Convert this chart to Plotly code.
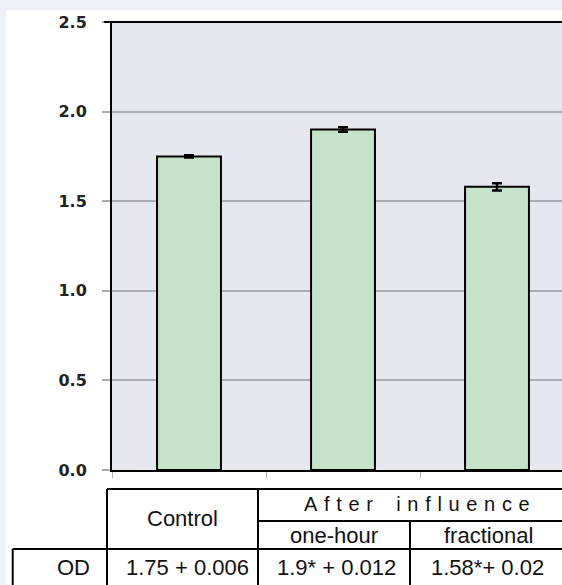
import plotly.graph_objects as go

# ---- data ----
groups = ["Control", "one-hour", "fractional"]
od_mean = [1.75, 1.9, 1.58]
od_err = [0.006, 0.012, 0.02]
sig_mark = ["", "*", "*"]
sig_sep = [" + ", " + ", "+ "]
y_ticks = [0.0, 0.5, 1.0, 1.5, 2.0, 2.5]
header_top = "After influence"
row_label = "OD"

# ---- layout geometry (pixels) ----
W, H = 562, 585
L, R, T, B = 112, 562, 22, 470


def px(x):
    return (x - L) / (R - L)


def py(y):
    return (B - y) / (B - T)


fig = go.Figure()
fig.add_trace(go.Bar(
    x=groups, y=od_mean,
    width=0.415,
    marker=dict(color="#c4e3c8", line=dict(color="black", width=2)),
    error_y=dict(type="data", array=od_err, visible=True,
                 color="black", thickness=2.5, width=5),
    showlegend=False,
))

shapes = []
# outer light frame strips
shapes.append(dict(type="rect", xref="paper", yref="paper",
                   x0=px(0), x1=px(W), y0=py(0), y1=py(10),
                   fillcolor="#edf0f7", line=dict(width=0), layer="below"))
shapes.append(dict(type="rect", xref="paper", yref="paper",
                   x0=px(0), x1=px(6), y0=py(0), y1=py(H),
                   fillcolor="#edf0f7", line=dict(width=0), layer="below"))
# top border of plot
shapes.append(dict(type="line", xref="paper", yref="paper",
                   x0=px(104), x1=px(W), y0=1, y1=1,
                   line=dict(color="black", width=2)))


def hline(y, x0, x1):
    shapes.append(dict(type="line", xref="paper", yref="paper",
                       x0=px(x0), x1=px(x1), y0=py(y), y1=py(y),
                       line=dict(color="black", width=2)))


def vline(x, y0, y1):
    shapes.append(dict(type="line", xref="paper", yref="paper",
                       x0=px(x), x1=px(x), y0=py(y0), y1=py(y1),
                       line=dict(color="black", width=2)))


# table grid
hline(489, 107, W)
hline(521, 258, W)
hline(549, 12.7, W)
vline(107, 489, H + 5)
vline(258, 489, H + 5)
vline(410, 521, H + 5)
vline(12.7, 549, H + 5)

annotations = []


def txt(s, x, y, size=22, xanchor="center"):
    annotations.append(dict(text=s, xref="paper", yref="paper",
                            x=px(x), y=py(y), xanchor=xanchor, yanchor="middle",
                            showarrow=False,
                            font=dict(family="Liberation Sans, Arial", size=size, color="#111")))


spaced = "\u2004".join(list(header_top.replace(" ", "\u2002")))
txt(groups[0], 182.5, 518)
txt(spaced, 417, 504, size=20)
txt(groups[1], 334, 535)
txt(groups[2], 488, 535)
txt(row_label, 92, 567, xanchor="right")
for i, cx in enumerate([187, 336, 487]):
    txt(f"{od_mean[i]}{sig_mark[i]}{sig_sep[i]}{od_err[i]}", cx, 567)

fig.update_layout(
    width=W, height=H,
    margin=dict(l=L, r=W - R, t=T, b=H - B, pad=0),
    paper_bgcolor="white",
    plot_bgcolor="#e7e7f0",
    shapes=shapes,
    annotations=annotations,
    xaxis=dict(range=[-0.5, -0.5 + 450 / 154], showticklabels=False,
               showline=True, linecolor="black", linewidth=2,
               ticks="outside", tickson="boundaries", ticklen=6,
               tickcolor="#b0b0b8", tickwidth=1, showgrid=False),
    yaxis=dict(range=[0, 2.5], tickvals=y_ticks, tickformat=".1f",
               showline=True, linecolor="black", linewidth=2,
               showgrid=True, gridcolor="#acacb6", gridwidth=2,
               zeroline=False,
               ticks="outside", ticklen=8, tickcolor="#a8a8b0", tickwidth=2,
               ticklabelstandoff=12,
               tickfont=dict(family="DejaVu Sans", size=16, color="#222", weight="bold")),
)

fig.write_html(
    "out.html",
    config={"displayModeBar": False},
    post_script="document.body.style.margin='0';document.body.style.overflow='hidden';",
)
